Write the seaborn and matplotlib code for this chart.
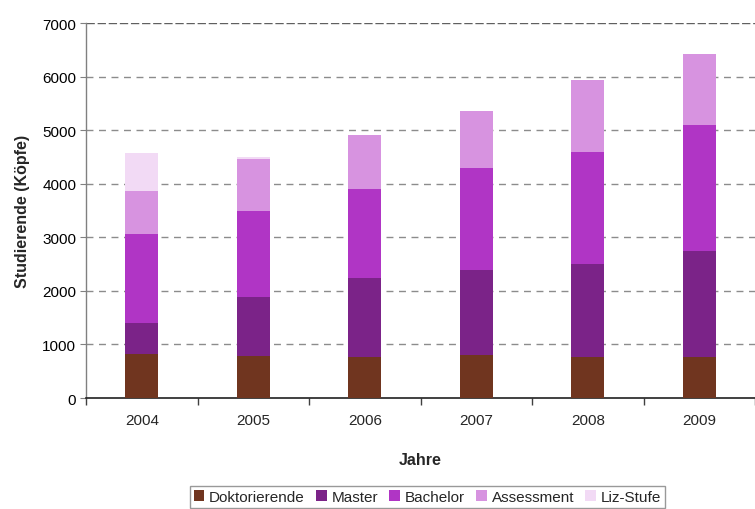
import numpy as np
import pandas as pd
import matplotlib
matplotlib.use("Agg")
import matplotlib.pyplot as plt
import seaborn as sns
from matplotlib.patches import Patch
from matplotlib.ticker import FixedLocator

# Students per year, by study level
years = ["2004", "2005", "2006", "2007", "2008", "2009"]
doktorierende = [820, 780, 770, 800, 770, 770]
master = [580, 1105, 1470, 1590, 1730, 1975]
bachelor = [1660, 1605, 1660, 1900, 2090, 2350]
assessment = [800, 970, 1010, 1065, 1345, 1325]
liz_stufe = [710, 40, 0, 0, 0, 0]

series_names = ["Doktorierende", "Master", "Bachelor", "Assessment", "Liz-Stufe"]
series_values = [doktorierende, master, bachelor, assessment, liz_stufe]
colors = ["#70351F", "#7B2388", "#B035C5", "#D793E0", "#F2DAF5"]

sns.set_theme(style="white")
plt.rcParams["font.family"] = ["Liberation Sans", "DejaVu Sans"]

df = pd.DataFrame({"Jahr": years})
cum = np.zeros(len(years))
for name, vals in zip(series_names, series_values):
    cum = cum + np.array(vals)
    df[name] = cum

fig = plt.figure(figsize=(7.55, 5.10), dpi=100)
ax = fig.add_axes([0.114, 0.2176, 0.886, 0.7353])

# stacked bars: draw cumulative totals from the top layer down
for name, color in reversed(list(zip(series_names, colors))):
    sns.barplot(data=df, x="Jahr", y=name, color=color, width=0.295,
                saturation=1, ax=ax, zorder=3, edgecolor="none", linewidth=0)

ax.set_xlim(-0.5, 5.5)
ax.set_ylim(0, 7000)
ax.set_yticks(np.arange(0, 7001, 1000))
ax.tick_params(axis="y", labelsize=11, colors="#808080", labelcolor="black",
               length=4, width=0.8, direction="out", left=True, pad=3)

# category labels centred, tick marks on category boundaries
ax.set_xticks(range(len(years)))
ax.set_xticklabels(years)
ax.tick_params(axis="x", which="major", length=0, labelsize=11, pad=11)
ax.xaxis.set_minor_locator(FixedLocator(np.arange(-0.5, 6.0, 1.0)))
ax.tick_params(axis="x", which="minor", length=5, width=1.0, color="#404040",
               direction="out", bottom=True)

for y in range(1000, 7001, 1000):
    if y == 7000:
        ax.axhline(y, color="#606060", lw=1.0, dashes=(6, 2), zorder=1)
    else:
        ax.axhline(y, color="#8c8c8c", lw=1.0, dashes=(5, 4), zorder=1)

for side in ["top", "right"]:
    ax.spines[side].set_visible(False)
ax.spines["left"].set_color("#808080")
ax.spines["left"].set_linewidth(1.0)
ax.spines["bottom"].set_color("#202020")
ax.spines["bottom"].set_linewidth(1.2)

ax.set_ylabel("Studierende (Köpfe)", fontsize=11.5, fontweight="bold", labelpad=9)
ax.set_xlabel("Jahre", fontsize=11.5, fontweight="bold", labelpad=18)

handles = [Patch(facecolor=c, edgecolor="none", label=n) for n, c in zip(series_names, colors)]
leg = fig.legend(handles=handles, loc="center", bbox_to_anchor=(0.566, 0.0235), ncol=5,
                 frameon=True, fancybox=False, fontsize=11, handlelength=0.7,
                 handleheight=0.7, handletextpad=0.3, columnspacing=0.75,
                 borderpad=0.25, borderaxespad=0)
leg.get_frame().set_edgecolor("#808080")
leg.get_frame().set_linewidth(1.0)

fig.savefig("out.png", dpi=100)
